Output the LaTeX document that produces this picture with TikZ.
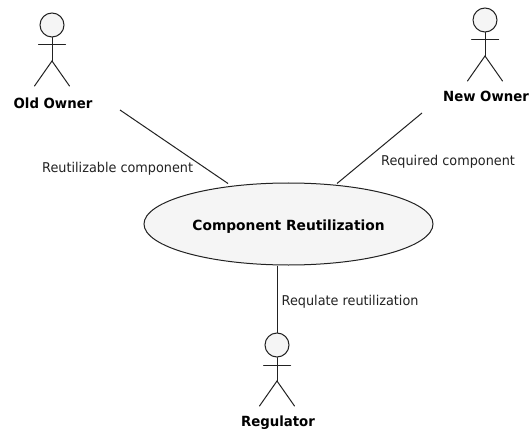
\documentclass[tikz,border=0pt]{standalone}
\usepackage{fontspec}
\setmainfont{DejaVu Sans}
\usetikzlibrary{shapes.geometric}
\definecolor{shapefill}{HTML}{F5F5F5}
\definecolor{ink}{HTML}{222222}
\newfontface\labelface{DejaVu Sans}[FakeStretch=0.95]
\newfontface\boldface{DejaVu Sans Bold}[FakeStretch=0.95]
\newfontface\boldwide{DejaVu Sans Bold}[FakeStretch=0.985]
\tikzset{
  lineink/.style={draw=ink,line width=1pt},
  head/.style={circle,lineink,fill=shapefill,minimum size=24pt,inner sep=0pt},
  limb/.style={lineink,line cap=round},
  usecase/.style={ellipse,lineink,fill=shapefill,minimum width=289pt,minimum height=82pt,inner sep=0pt},
  boldlabel/.style={inner sep=0pt,font=\boldface\fontsize{14}{16}\selectfont,text=black},
  assoc/.style={inner sep=0pt,anchor=west,font=\labelface\fontsize{13.5}{16}\selectfont,text=ink}
}
\newcommand{\actorfig}[3]{%
  \node[head] (#1head) at (#2,#3) {};
  \coordinate (#1hip) at (#2,#3+36);
  \coordinate (#1armL) at (#2-13.5,#3+20);
  \coordinate (#1armR) at (#2+13.5,#3+20);
  \coordinate (#1legL) at (#2-17.5,#3+61);
  \coordinate (#1legR) at (#2+17.5,#3+61);
  \draw[limb] (#1head.south) -- (#1hip);
  \draw[limb] (#1armL) -- (#1armR);
  \draw[limb] (#1legL) -- (#1hip) -- (#1legR);
}
\begin{document}
\begin{tikzpicture}[x=1pt,y=-1pt]
\useasboundingbox (0,0) rectangle (529,430);
\fill[white] (0,0) rectangle (529,430);
\node[usecase] (uc) at (288.5,224) {};
\node[boldlabel,font=\boldwide\fontsize{14}{16}\selectfont] (uct) at (288.5,227) {Component Reutilization};
\actorfig{old}{52}{25}
\actorfig{new}{485}{20}
\actorfig{reg}{277}{345}
\node[boldlabel] (oldl) at (53,103.5) {Old Owner};
\node[boldlabel] (newl) at (486,96.5) {New Owner};
\node[boldlabel] (regl) at (278,423) {Regulator};
\coordinate (c1a) at (120,110);
\coordinate (c1b) at (228,183.5);
\coordinate (c2a) at (422,113);
\coordinate (c2b) at (337,183.5);
\draw[lineink] (c1a) -- (c1b);
\draw[lineink] (c2a) -- (c2b);
\draw[lineink] (uc.south -| reghead.north) -- (reghead.north);
\node[assoc] (l1) at (42,168.5) {Reutilizable component};
\node[assoc] (l2) at (381,161.5) {Required component};
\node[assoc] (l3) at (281.5,301.5) {Requlate reutilization};
\end{tikzpicture}
\end{document}
